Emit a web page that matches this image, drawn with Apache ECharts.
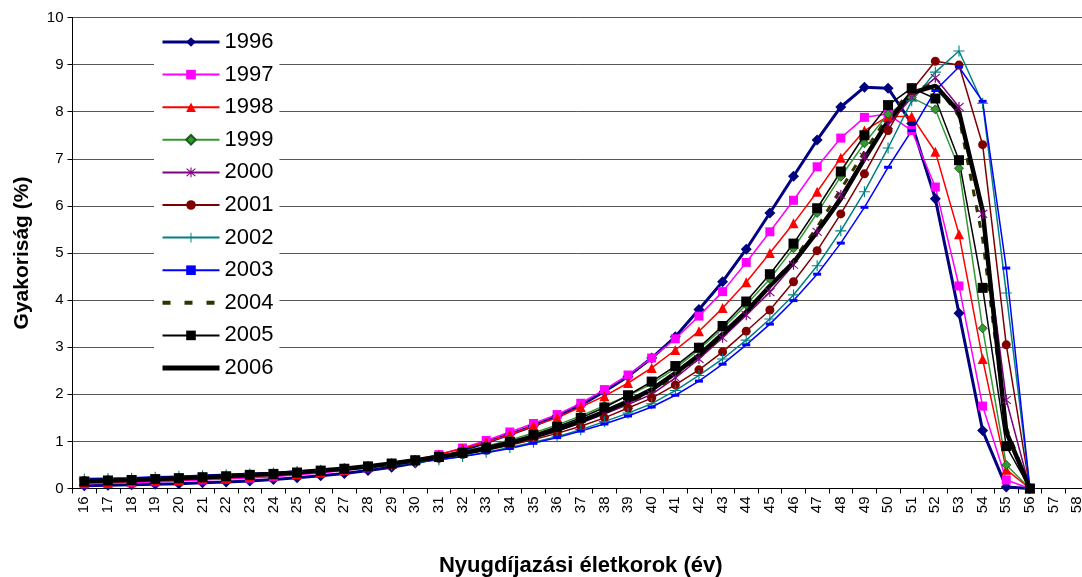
<!DOCTYPE html>
<html>
<head>
<meta charset="utf-8">
<script src="https://cdn.jsdelivr.net/npm/echarts@6/dist/echarts.min.js"></script>
<style>
html,body{margin:0;padding:0;background:#fff;}
#chart{width:1082px;height:577px;}
</style>
</head>
<body>
<div id="chart"></div>
<script>
const ages = ['16','17','18','19','20','21','22','23','24','25','26','27','28','29','30','31','32','33','34','35','36','37','38','39','40','41','42','43','44','45','46','47','48','49','50','51','52','53','54','55','56','57','58'];
const yTicks = [0,1,2,3,4,5,6,7,8,9,10];

const y1996 = [0.06,0.07,0.08,0.09,0.10,0.12,0.14,0.16,0.19,0.23,0.27,0.32,0.38,0.45,0.54,0.65,0.80,0.98,1.15,1.33,1.54,1.77,2.06,2.38,2.77,3.22,3.80,4.39,5.08,5.85,6.63,7.40,8.10,8.52,8.50,7.75,6.15,3.72,1.23,0.03,0];
const y1997 = [0.10,0.11,0.12,0.14,0.16,0.18,0.20,0.22,0.25,0.29,0.33,0.38,0.44,0.51,0.60,0.72,0.86,1.02,1.20,1.38,1.57,1.81,2.10,2.41,2.77,3.18,3.66,4.18,4.80,5.45,6.12,6.83,7.44,7.88,7.95,7.60,6.40,4.30,1.75,0.18,0];
const y1998 = [0.12,0.13,0.15,0.16,0.18,0.20,0.22,0.25,0.28,0.31,0.35,0.40,0.46,0.53,0.61,0.72,0.85,0.98,1.14,1.33,1.50,1.73,1.96,2.24,2.56,2.94,3.34,3.83,4.38,5.00,5.63,6.30,7.02,7.60,7.90,7.90,7.15,5.40,2.75,0.40,0];
const y1999 = [0.15,0.16,0.18,0.19,0.21,0.23,0.25,0.28,0.31,0.34,0.38,0.43,0.48,0.54,0.61,0.69,0.79,0.90,1.03,1.18,1.35,1.54,1.76,1.97,2.22,2.55,2.95,3.40,3.90,4.45,5.10,5.85,6.62,7.33,7.95,8.30,8.05,6.80,3.40,0.50,0];
const y2000 = [0.16,0.17,0.19,0.20,0.22,0.24,0.26,0.28,0.31,0.34,0.38,0.42,0.47,0.52,0.58,0.65,0.74,0.84,0.95,1.08,1.22,1.39,1.58,1.78,2.00,2.35,2.75,3.20,3.68,4.17,4.75,5.45,6.23,7.04,7.72,8.30,8.72,8.10,5.83,1.88,0];
const y2001 = [0.17,0.18,0.19,0.21,0.22,0.24,0.26,0.28,0.30,0.33,0.36,0.40,0.44,0.50,0.57,0.64,0.72,0.81,0.92,1.04,1.17,1.32,1.50,1.71,1.92,2.20,2.52,2.90,3.34,3.79,4.39,5.05,5.83,6.68,7.60,8.45,9.07,8.99,7.30,3.05,0];
const y2002 = [0.20,0.21,0.22,0.24,0.26,0.27,0.29,0.31,0.33,0.36,0.39,0.42,0.46,0.50,0.55,0.61,0.68,0.77,0.87,0.98,1.10,1.25,1.42,1.60,1.80,2.08,2.40,2.75,3.15,3.60,4.11,4.73,5.47,6.30,7.23,8.23,8.84,9.29,8.18,4.15,0];
const y2003 = [0.21,0.22,0.23,0.25,0.26,0.28,0.30,0.32,0.34,0.37,0.40,0.43,0.47,0.51,0.56,0.61,0.68,0.76,0.85,0.96,1.08,1.22,1.37,1.54,1.73,1.98,2.28,2.64,3.05,3.49,3.99,4.55,5.21,5.97,6.82,7.60,8.45,8.95,8.22,4.68,0];
const y2004 = [0.16,0.17,0.19,0.20,0.22,0.24,0.26,0.29,0.31,0.34,0.38,0.42,0.47,0.53,0.60,0.67,0.76,0.86,0.98,1.11,1.26,1.43,1.62,1.82,2.05,2.40,2.80,3.25,3.75,4.30,4.85,5.55,6.35,7.15,7.90,8.45,8.60,7.90,5.30,1.30,0];
const y2005 = [0.15,0.17,0.18,0.20,0.22,0.24,0.26,0.29,0.31,0.34,0.38,0.42,0.47,0.53,0.60,0.67,0.76,0.87,0.99,1.14,1.31,1.50,1.72,1.98,2.27,2.60,2.99,3.45,3.97,4.55,5.20,5.95,6.73,7.50,8.14,8.50,8.28,6.97,4.26,0.90,0];
const y2006 = [0.16,0.17,0.18,0.20,0.22,0.24,0.26,0.29,0.31,0.34,0.38,0.42,0.47,0.53,0.60,0.67,0.75,0.85,0.97,1.10,1.25,1.43,1.63,1.85,2.10,2.45,2.83,3.28,3.75,4.30,4.80,5.45,6.15,7.00,7.80,8.40,8.55,8.00,5.90,1.20,0];

const asterisk = 'path://M9,0 L11,0 L11,20 L9,20 Z M1.4,2.8 L2.8,1.4 L18.6,17.2 L17.2,18.6 Z M17.2,1.4 L18.6,2.8 L2.8,18.6 L1.4,17.2 Z';
const plus = 'path://M9,0 L11,0 L11,20 L9,20 Z M0,9 L20,9 L20,11 L0,11 Z';

function s(name, data, color, width, symbol, size, extra) {
  return Object.assign({
    name: name, type: 'line', data: data, symbol: symbol, symbolSize: size,
    showSymbol: symbol !== 'none',
    lineStyle: {color: color, width: width},
    itemStyle: {color: color},
    animation: false
  }, extra || {});
}

const series = [
  s('1996', y1996, '#000080', 3, 'diamond', 11),
  s('1997', y1997, '#FF00FF', 1.5, 'rect', 9),
  s('1998', y1998, '#FF0000', 1.5, 'triangle', 10),
  s('1999', y1999, '#339933', 1.5, 'diamond', 9, {itemStyle:{color:'#339933', borderColor:'#1a5c1a', borderWidth:1}}),
  s('2000', y2000, '#800080', 1.5, asterisk, 10),
  s('2001', y2001, '#800000', 1.5, 'circle', 9),
  s('2002', y2002, '#008080', 1.5, plus, 11),
  s('2003', y2003, '#0000FF', 1.5, 'rect', [8,3]),
  s('2004', y2004, '#333300', 3, 'none', 0, {lineStyle:{color:'#333300', width:3, type:[7,9]}}),
  s('2005', y2005, '#000000', 1.5, 'rect', 10),
  s('2006', y2006, '#000000', 4.5, 'none', 0)
];

const legendNames = ['1996','1997','1998','1999','2000','2001','2002','2003','2004','2005','2006'];
const legendData = legendNames.map(function (n) {
  if (n === '2004') return {name: n, itemStyle: {opacity: 0}, lineStyle: {width: 4, type: [8, 14], color: '#333300'}};
  if (n === '2006') return {name: n, itemStyle: {opacity: 0}, lineStyle: {width: 5, color: '#000'}};
  if (n === '1996') return {name: n, lineStyle: {width: 3, color: '#000080'}};
  return {name: n};
});

const chart = echarts.init(document.getElementById('chart'), null, {renderer: 'canvas'});
chart.setOption({
  backgroundColor: '#ffffff',
  animation: false,
  textStyle: {fontFamily: 'Liberation Sans, Arial, sans-serif'},
  grid: {left: 72.5, right: -7, top: 17.5, bottom: 88.5, containLabel: false, outerBoundsMode: 'none'},
  legend: {
    orient: 'vertical', left: 154, top: 27,
    backgroundColor: '#ffffff', padding: [4, 6, 4, 6],
    itemWidth: 57, itemHeight: 12, itemGap: 10.6,
    textStyle: {fontSize: 22, color: '#000', lineHeight: 22, fontFamily: 'Liberation Sans, Arial, sans-serif'},
    data: legendData
  },
  xAxis: {
    type: 'category', data: ages, boundaryGap: true,
    name: 'Nyugdíjazási életkorok (év)', nameLocation: 'middle', nameGap: 66,
    nameTextStyle: {fontSize: 22, fontWeight: 'bold', color: '#000'},
    axisLine: {lineStyle: {color: '#000', width: 1}},
    axisTick: {show: true, alignWithLabel: false, length: 5, lineStyle: {color: '#000'}},
    axisLabel: {rotate: 90, fontSize: 15, color: '#000', interval: 0, margin: 8},
    splitLine: {show: false}
  },
  yAxis: {
    type: 'value', min: yTicks[0], max: yTicks[yTicks.length-1], interval: 1,
    name: 'Gyakoriság (%)', nameLocation: 'middle', nameGap: 40,
    nameTextStyle: {fontSize: 21, fontWeight: 'bold', color: '#000'},
    axisLine: {show: true, lineStyle: {color: '#000', width: 1}},
    axisTick: {show: true, length: 5, lineStyle: {color: '#000'}},
    axisLabel: {fontSize: 15, color: '#000', margin: 9},
    splitLine: {show: true, lineStyle: {color: '#555', width: 1}}
  },
  series: series
});
</script>
</body>
</html>
